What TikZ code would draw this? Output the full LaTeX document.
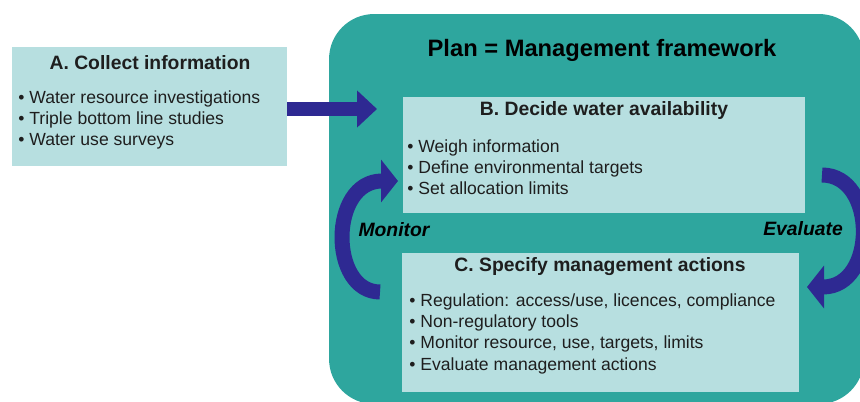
\documentclass[tikz,border=0pt]{standalone}
\usepackage{fontspec}
\setmainfont{Liberation Sans}
\usetikzlibrary{arrows.meta}
\definecolor{planteal}{RGB}{46,166,158}
\definecolor{boxcyan}{RGB}{183,223,224}
\definecolor{loopblue}{RGB}{46,41,146}
\definecolor{inktext}{RGB}{30,30,30}
\tikzset{
    infobox/.style={fill=boxcyan, inner sep=0pt},
    headtext/.style={text=inktext, font=\fontsize{11}{13}\selectfont\bfseries},
    listtext/.style={text=inktext, font=\fontsize{10}{12.2}\selectfont, align=left, anchor=north west, inner sep=0pt},
    looptext/.style={text=black, font=\fontsize{11}{13}\selectfont\bfseries\itshape},
    bigarrow/.style={loopblue, line width=0.3cm, -{Triangle[length=0.4cm,width=0.72cm]}},
    looparrow/.style={loopblue, line width=0.3cm, -{Triangle[length=0.34cm,width=0.84cm]}}
}
\begin{document}
\begin{tikzpicture}[x=0.02cm,y=-0.02cm]%
    \useasboundingbox (0,0) rectangle (860,402);
    \node[fill=planteal, rounded corners=0.9cm, inner sep=0pt,
          minimum width=10.7cm, minimum height=7.8cm] (plan) at (596.5,209) {};
    \node[text=black, font=\fontsize{13.5}{16}\selectfont\bfseries] (plantitle) at (602,50) {Plan = Management framework};
    \node[infobox, minimum width=5.5cm, minimum height=2.38cm] (boxA) at (149.5,106.5) {};
    \node[infobox, minimum width=8.04cm, minimum height=2.32cm] (boxB) at (604,155) {};
    \node[infobox, minimum width=7.94cm, minimum height=2.78cm] (boxC) at (600.5,322.5) {};
    \node[headtext] (titleA) at (150,63) {A. Collect information};
    \node[headtext] (titleB) at (604,111) {B. Decide water availability};
    \node[headtext] (titleC) at (600,267) {C. Specify management actions};
    \node[listtext] (listA) at (18,90) {\textbullet\ Water resource investigations\\
        \textbullet\ Triple bottom line studies\\ \textbullet\ Water use surveys};
    \node[listtext] (listB) at (407,139) {\textbullet\ Weigh information\\
        \textbullet\ Define environmental targets\\ \textbullet\ Set allocation limits};
    \node[listtext] (listC) at (409,293) {\textbullet\ Regulation: access/use, licences, compliance\\
        \textbullet\ Non-regulatory tools\\ \textbullet\ Monitor resource, use, targets, limits\\
        \textbullet\ Evaluate management actions};
    \node[looptext] (monitor) at (394,230) {Monitor};
    \node[looptext] (evaluate) at (803,229) {Evaluate};
    \coordinate (tipAB) at (377,109);
    \coordinate (monTail) at (380,292);
    \coordinate (monTip) at (398,181);
    \coordinate (evaTail) at (822,175);
    \coordinate (evaTip) at (807,287);
    \draw[bigarrow] (boxA.east |- tipAB) -- (tipAB);
    \begin{scope}[looparrow]
        \draw (monTail) .. controls (329,292) and (329,181) .. (monTip);
        \draw (evaTail) .. controls (877,175) and (877,287) .. (evaTip);
    \end{scope}
\end{tikzpicture}
\end{document}
